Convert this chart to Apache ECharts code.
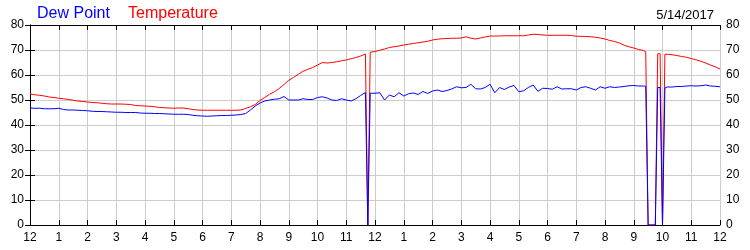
<!DOCTYPE html>
<html>
<head>
<meta charset="utf-8">
<script src="https://cdn.jsdelivr.net/npm/echarts@6/dist/echarts.min.js"></script>
<style>
html,body{margin:0;padding:0;background:#fff;}
#chart{width:750px;height:250px;}
</style>
</head>
<body>
<div id="chart"></div>
<script>
// Time of day in minutes after midnight
const minutes = [
  0,10,20,30,40,50,60,70,80,90,100,110,120,130,140,150,160,170,180,190,
  200,210,220,230,240,250,260,270,280,290,300,310,320,330,340,350,360,370,380,390,
  400,410,420,430,440,450,460,470,480,490,500,510,520,530,540,550,560,570,580,590,
  600,610,620,630,640,650,660,670,680,690,700,
  705,
  710,720,730,740,750,760,770,780,790,
  800,810,820,830,840,850,860,870,880,890,
  900,910,920,930,940,950,960,970,980,990,
  1000,1010,1020,1030,1040,1050,1060,1070,1080,1090,
  1100,1110,1120,1130,1140,1150,1160,1170,1180,1190,
  1200,1210,1220,1230,1240,1250,1260,1270,1280,
  1285,1290,1295,1300,1305,1310,1315,1320,1325,
  1330,1340,1350,1360,1370,1380,1390,1400,1410,1420,1430,1440
];
const temperature = [
  52.4,52.1,51.9,51.6,51.2,51.0,50.7,50.5,50.2,49.9,
  49.6,49.4,49.2,49.0,48.9,48.7,48.5,48.4,48.4,48.4,
  48.3,48.2,47.8,47.7,47.6,47.5,47.3,47.0,46.9,46.8,
  46.7,46.8,46.8,46.5,46.2,46.0,45.9,45.9,45.9,45.9,
  45.9,45.9,45.9,45.9,46.0,46.6,47.3,48.2,49.8,51.0,
  52.3,53.3,54.6,56.2,57.9,59.0,60.3,61.5,62.3,63.0,
  64.0,65.0,64.8,65.0,65.3,65.7,66.0,66.5,67.0,67.6,
  68.4,
  0,
  69.1,69.4,69.9,70.4,71.0,71.3,71.6,72.0,72.3,
  72.6,72.9,73.2,73.5,74.0,74.3,74.5,74.6,74.7,74.7,
  74.8,75.3,74.7,74.4,74.8,75.2,75.6,75.6,75.6,75.7,
  75.7,75.7,75.7,75.7,76.0,76.3,76.2,76.0,75.9,75.9,
  75.9,75.9,75.9,75.8,75.5,75.5,75.4,75.3,75.1,74.8,
  74.4,73.8,73.4,72.8,71.9,71.3,70.8,70.2,69.8,
  69.3,0,0,0,0,68.5,68.5,0,68.3,
  68.3,68.1,67.8,67.4,67.1,66.6,66.1,65.5,64.8,64.0,63.3,62.4
];
const dewPoint = [
  46.8,46.7,46.7,46.5,46.5,46.5,46.7,46.2,46.0,46.0,
  45.9,45.8,45.7,45.5,45.4,45.4,45.3,45.2,45.1,45.1,
  45.0,45.0,45.0,44.8,44.7,44.7,44.6,44.6,44.5,44.4,
  44.3,44.3,44.3,44.2,43.9,43.7,43.6,43.5,43.6,43.7,
  43.8,43.8,43.9,44.0,44.2,44.6,46.0,47.6,48.8,49.6,
  50.0,50.3,50.5,51.4,50.0,50.0,50.0,50.5,50.2,50.2,
  51.0,51.3,50.8,50.0,49.8,50.5,50.0,49.6,50.5,51.8,
  53.0,
  0,
  52.7,52.7,52.9,50.0,52.0,51.3,52.9,51.6,52.5,
  52.8,52.2,53.4,52.6,53.6,54.0,53.4,53.8,54.4,55.3,
  54.9,55.0,56.3,54.5,54.4,55.0,56.3,52.9,55.0,54.2,
  55.2,55.8,53.3,53.7,55.0,56.0,53.5,54.7,54.6,54.3,
  55.3,54.4,54.5,54.5,54.0,55.0,55.3,54.7,54.0,55.3,
  54.7,55.3,55.0,55.2,55.4,55.7,55.8,55.6,55.6,
  55.5,0,0,0,0,55.0,55.0,0,54.8,
  55.2,55.2,55.4,55.4,55.6,55.7,55.6,55.7,56.0,55.6,55.5,55.3
];
const yTicks = [0,10,20,30,40,50,60,70,80];
const seriesNames = ['Dew Point','Temperature'];
const dateLabel = '5/14/2017';

const chart = echarts.init(document.getElementById('chart'), null, {renderer:'canvas'});
const font = 'Arial, "Liberation Sans", sans-serif';
const hourLabel = v => { const h = Math.round(v/60) % 12; return h === 0 ? '12' : String(h); };
const yAxisBase = {
  type:'value', min:yTicks[0], max:yTicks[yTicks.length-1], interval:yTicks[1]-yTicks[0],
  axisLine:{show:true, lineStyle:{color:'#000', width:1}},
  axisTick:{show:true, inside:true, length:5, lineStyle:{color:'#000'}},
  axisLabel:{color:'#000', fontSize:12, fontFamily:font, margin:6},
  splitLine:{show:true, lineStyle:{color:'#cccccc', width:1}}
};
chart.setOption({
  animation:false,
  backgroundColor:'#fff',
  title:[
    {text:seriesNames[0], left:32, top:1, textStyle:{color:'#0000ff', fontSize:16, fontWeight:'normal', fontFamily:font}},
    {text:seriesNames[1], left:123, top:1, textStyle:{color:'#ff0000', fontSize:16, fontWeight:'normal', fontFamily:font}},
    {text:dateLabel, right:31, top:4, textStyle:{color:'#000', fontSize:13, fontWeight:'normal', fontFamily:font}}
  ],
  grid:{left:30, right:30, top:25, bottom:25, containLabel:false},
  xAxis:[
    {type:'value', min:0, max:1440, interval:60, position:'bottom',
     axisLine:{show:true, onZero:false, lineStyle:{color:'#000', width:1}},
     axisTick:{show:true, inside:true, length:5, lineStyle:{color:'#000'}},
     axisLabel:{color:'#000', fontSize:12, fontFamily:font, margin:7, formatter:hourLabel, showMinLabel:true, showMaxLabel:true},
     splitLine:{show:true, lineStyle:{color:'#cccccc', width:1}}},
    {type:'value', min:0, max:1440, interval:60, position:'top',
     axisLine:{show:true, onZero:false, lineStyle:{color:'#000', width:1}},
     axisTick:{show:true, inside:true, length:5, lineStyle:{color:'#000'}},
     axisLabel:{show:false}, splitLine:{show:false}}
  ],
  yAxis:[
    Object.assign({}, yAxisBase, {position:'left'}),
    Object.assign({}, yAxisBase, {position:'right', splitLine:{show:false}})
  ],
  series:[
    {name:seriesNames[1], type:'line', xAxisIndex:0, yAxisIndex:0, showSymbol:false, symbol:'none',
     lineStyle:{color:'#ff0000', width:1}, itemStyle:{color:'#ff0000'},
     data:minutes.map((m,i)=>[m, temperature[i]])},
    {name:seriesNames[0], type:'line', xAxisIndex:0, yAxisIndex:0, showSymbol:false, symbol:'none',
     lineStyle:{color:'#0000ff', width:1}, itemStyle:{color:'#0000ff'},
     data:minutes.map((m,i)=>[m, dewPoint[i]])}
  ]
});
</script>
</body>
</html>
